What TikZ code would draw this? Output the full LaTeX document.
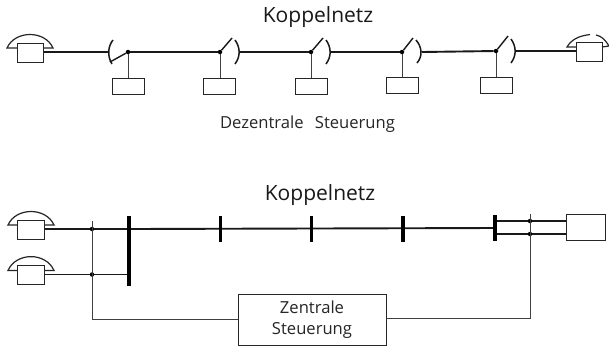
\documentclass[tikz,border=0pt]{standalone}
\usepackage{fontspec}
\setmainfont{Open Sans}
\tikzset{
  x=1pt,y=-1pt,
  thickl/.style={line width=1.9pt,black!90},
  thinl/.style={line width=0.8pt,black!75},
  boxn/.style={draw=black!85,line width=1pt,fill=white,inner sep=0pt,minimum width=#1,minimum height=16pt},
  boxn/.default=32pt,
  dotn/.style={circle,fill=black,inner sep=0pt,minimum size=4.5pt},
  barl/.style={line width=3.6pt,black},
  title/.style={font=\fontsize{21}{23}\selectfont,text=black!90},
  lab/.style={font=\fontsize{16.6}{18.5}\selectfont,text=black!85},
  cradle/.style={line width=1.2pt,black!85},
  arcl/.style={line width=1.5pt,black!90},
  bladel/.style={line width=1.4pt,black!90}
}
\begin{document}
\begin{tikzpicture}
\useasboundingbox (0,0) rectangle (609,349);
\fill[white] (0,0) rectangle (609,349);
\node[title] (t1) at (318,17) {Koppelnetz};
\node[lab] (t2) at (307.5,124.5) {Dezentrale\hspace{7pt} Steuerung};
\node[title] (t3) at (320,195) {Koppelnetz};
% top row phones
\node[boxn=26pt,minimum height=19pt] (p1) at (30,53) {};
\draw[cradle] (17,48) -- (7,48) .. controls (15,30) and (45,30) .. (53,48) -- (43,48);
\node[boxn=26pt,minimum height=19pt] (p2) at (589,51.5) {};
\draw[cradle] (576,47) -- (567,47) .. controls (571,40) and (578,36) .. (590,34.5);
\draw[cradle] (596,35) .. controls (602,36) and (606,41) .. (609,46) -- (602,47);
% top row control boxes
\node[boxn=32pt] (c1) at (128.5,86) {};
\node[boxn=32pt] (c2) at (219.5,86) {};
\node[boxn=32pt] (c3) at (311,86) {};
\node[boxn=32pt] (c4) at (402.5,85.5) {};
\node[boxn=32pt] (c5) at (496,85) {};
% switch points
\node[dotn] (s1) at (128,52) {};
\node[dotn] (s2) at (220,52) {};
\node[dotn] (s3) at (311,52) {};
\node[dotn] (s4) at (402,52) {};
\node[dotn] (s5) at (496,51) {};
\foreach \i in {1,...,5}{\draw[thinl] (s\i) -- (c\i.north -| s\i);}
\coordinate (a1) at (108.5,52);
\coordinate (a2) at (239.5,52);
\coordinate (a3) at (330,52);
\coordinate (a4) at (422,52);
\coordinate (a5) at (516,51);
\draw[thickl] (p1.east |- a1) -- (a1);
\draw[thickl] (s1) -- (s2);
\draw[thickl] (a2) -- (s3);
\draw[thickl] (a3) -- (s4);
\draw[thickl] (a4) -- (s5);
\draw[thickl] (a5) -- (p2.west |- a5);
% first switch, closed
\draw[arcl] (113,40) .. controls (108,46) and (107,56) .. (112,64);
\draw[bladel] (s1) -- (110,62);
% open switches
\draw[bladel] (s2) -- (232,38);
\draw[arcl] (235,40) .. controls (240,47) and (241,56) .. (235,64);
\draw[bladel] (s3) -- (323,38);
\draw[arcl] (326,40) .. controls (331,47) and (332,56) .. (326,64);
\draw[bladel] (s4) -- (413,38);
\draw[arcl] (416,40) .. controls (422,47) and (423,56) .. (417,63);
\draw[bladel] (s5) -- (508,36);
\draw[arcl] (511,39) .. controls (516,46) and (517,55) .. (511,63);
% bottom row
\node[boxn=27pt,minimum height=19pt] (q1) at (30.5,229.5) {};
\draw[cradle] (17,225) -- (8,225) .. controls (16,207) and (46,207) .. (54,225) -- (44,225);
\node[boxn=27pt,minimum height=19pt] (q2) at (30.5,274.5) {};
\draw[cradle] (17,270.5) -- (8,270.5) .. controls (16,252) and (46,252) .. (54,270.5) -- (44,270.5);
\node[draw=black!85,line width=1pt,inner sep=0pt,minimum width=39pt,minimum height=26pt] (e) at (585.5,227) {};
\node[draw=black!85,line width=1pt,inner sep=0pt,minimum width=148pt,minimum height=51pt,align=center,lab] (z) at (312,319.5) {Zentrale\\[3pt]Steuerung};
\coordinate (b1t) at (129,216); \coordinate (b1b) at (129,286);
\coordinate (b2t) at (220.5,216); \coordinate (b2b) at (220.5,241.5);
\coordinate (b3t) at (311.5,216); \coordinate (b3b) at (311.5,241.5);
\coordinate (b4t) at (403,216); \coordinate (b4b) at (403,241.5);
\coordinate (b5t) at (495,215); \coordinate (b5b) at (495,241);
\draw[thickl] (q1.east |- 0,229) -- (b1t |- 0,229);
\draw[thickl] (q2.east) -- (b1t |- q2.east);
\draw[thickl] (b1t |- 0,229) -- (b5t |- 0,228);
\draw[thickl] (b5t |- 0,221) -- (e.west |- 0,221);
\draw[thickl] (b5t |- 0,234) -- (e.west |- 0,234);
\foreach \i in {1,...,5}{\draw[barl] (b\i t) -- (b\i b);}
\coordinate (vl) at (92,221);
\coordinate (vr) at (530,214);
\node[dotn] (d1) at (92,229) {};
\node[dotn] (d2) at (92,274.5) {};
\node[dotn] (d3) at (530,221) {};
\node[dotn] (d4) at (530,234) {};
\draw[thinl] (vl) -- (92,319) -- (z.west |- 0,319);
\draw[thinl] (vr) -- (530,318.5) -- (z.east |- 0,318.5);
\end{tikzpicture}
\end{document}
